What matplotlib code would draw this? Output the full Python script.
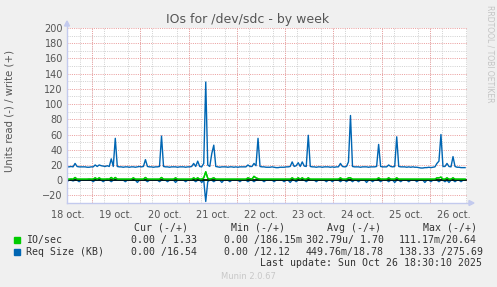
import numpy as np
import matplotlib
matplotlib.use("Agg")
import matplotlib.pyplot as plt
from matplotlib.lines import Line2D
from matplotlib.patches import Polygon, Rectangle

# ---------------- data (hourly samples, starting Oct 18 ~11:30) ----------------
day_labels = ["18 oct.", "19 oct.", "20 oct.", "21 oct.", "22 oct.",
              "23 oct.", "24 oct.", "25 oct.", "26 oct."]

req_write = [
    17.5, 17.5, 18, 17.5, 22, 18, 17.5, 17.5, 17.5, 17.5, 17, 17, 17.5, 17.5, 20, 18, 20, 19, 18.5, 18, 19, 18, 28, 18,
    55, 18, 17.5, 17.5, 17, 17.5, 17.5, 17, 17.5, 17.5, 17, 17.5, 18, 17.5, 18, 27, 18, 17.5, 17.5, 17, 17.5, 17.5, 18, 58,
    18, 17.5, 17.5, 17, 17.5, 17.5, 17.5, 17, 17.5, 17.5, 17.5, 17, 17.5, 17.5, 18, 22, 18, 25, 18, 17.5, 22, 129, 20, 18,
    35, 46, 18, 17.5, 17, 17.5, 17.5, 17.5, 17, 17.5, 17.5, 17, 17.5, 17, 17.5, 17.5, 17.5, 17.5, 20, 18, 18, 22, 19, 55,
    18, 17.5, 17.5, 17, 17, 17, 17.5, 17, 16.5, 16.5, 17, 17, 17, 17.5, 17.5, 18, 24, 18, 19, 23, 18, 24, 18.5, 18,
    59, 18, 17.5, 17.5, 17, 17.5, 17.5, 17, 17.5, 17.5, 17.5, 17, 17.5, 17, 17.5, 17.5, 22, 18, 17.5, 18, 24, 85, 18, 17.5,
    17.5, 17.5, 17, 17.5, 17.5, 17.5, 17, 17.5, 17.5, 17.5, 18, 47, 18, 17.5, 17.5, 17.5, 20, 18, 17.5, 18, 57, 18, 17.5, 17.5,
    17.5, 17, 17.5, 17, 17.5, 17, 17, 16.5, 16, 16, 16.5, 16.5, 17, 16.5, 17, 17.5, 22, 25, 60, 18, 18, 22, 18, 17.5,
    31, 18, 17, 17, 16.5, 16.5, 16.5,
]

req_read = [
    2, 0, 0, 1, 0, 0, 2, 0, 0, 0, 0, 0, 0, 2, 0, 0, 0, 0, 2, 0, 0, 0, 2, 0,
    0, 0, 0, 0, 0, 2, 0, 0, 0, 0, 0, 3, 0, 0, 0, 0, 2, 0, 0, 0, 0, 0, 2, 0,
    0, 0, 2, 0, 0, 0, 3, 0, 0, 0, 0, 2, 0, 0, 0, 0, 2, 0, 0, 3, 0, 28, 2, 0,
    0, 2, 0, 0, 0, 3, 0, 0, 0, 2, 0, 0, 0, 0, 2, 0, 0, 0, 2, 0, 0, 2, 0, 0,
    0, 0, 2, 0, 0, 0, 0, 2, 0, 0, 0, 0, 2, 0, 0, 3, 0, 0, 2, 0, 0, 0, 0, 2,
    0, 0, 0, 0, 2, 0, 0, 0, 0, 2, 0, 0, 2, 0, 0, 0, 2, 0, 0, 2, 0, 0, 2, 0,
    0, 2, 0, 0, 0, 3, 0, 0, 2, 0, 0, 0, 2, 0, 0, 0, 2, 0, 0, 3, 0, 0, 2, 0,
    0, 0, 2, 0, 0, 0, 2, 0, 0, 0, 3, 0, 0, 2, 0, 0, 0, 2, 0, 0, 2, 0, 3, 0,
    0, 2, 0, 0, 2, 0, 0,
]

io_write = [
    1.3, 1.3, 1.5, 1.3, 3.5, 1.3, 1.3, 1.3, 1.3, 1.3, 1.3, 1.5, 1.3, 1.3, 3, 1.3, 3, 1.3, 1.3, 1.3, 1.5, 1.3, 3.5, 1.3,
    3.5, 1.3, 1.3, 1.3, 1.3, 1.3, 1.3, 1.3, 1.3, 3, 1.3, 1.3, 1.3, 1.3, 1.3, 3.5, 1.3, 1.3, 1.3, 1.3, 1.3, 1.3, 1.3, 3.5,
    1.3, 1.3, 1.3, 1.3, 1.3, 1.3, 3, 1.3, 1.3, 1.3, 1.3, 1.3, 1.3, 1.3, 1.3, 3, 1.3, 3, 1.3, 1.3, 3, 11, 2.5, 1.3,
    2, 3, 1.3, 1.3, 1.3, 1.3, 1.3, 1.3, 1.3, 1.3, 1.3, 1.3, 1.3, 1.3, 1.3, 1.3, 1.3, 1.3, 3, 2, 1.3, 5, 3, 2,
    1.3, 1.3, 1.3, 1.3, 1.3, 1.3, 1.3, 1.3, 1.3, 1.3, 1.3, 1.3, 1.3, 1.3, 1.3, 1.3, 3, 1.3, 1.3, 3, 1.3, 3, 1.3, 1.3,
    3, 1.3, 1.3, 1.3, 1.3, 1.3, 1.3, 1.3, 1.3, 1.3, 1.3, 1.3, 1.3, 1.3, 1.3, 1.3, 3, 1.3, 1.3, 1.3, 3, 3, 1.3, 1.3,
    1.3, 1.3, 1.3, 1.3, 1.3, 1.3, 1.3, 1.3, 1.3, 1.3, 1.3, 3, 1.3, 1.3, 1.3, 1.3, 3, 1.3, 1.3, 1.3, 3, 1.3, 1.3, 1.3,
    1.3, 1.3, 1.3, 1.3, 1.3, 1.3, 1.3, 1.3, 1.3, 1.3, 1.3, 1.3, 1.3, 1.3, 1.3, 1.3, 3, 3, 4, 1.3, 1.3, 3, 1.3, 1.3,
    3, 1.3, 1.3, 1.3, 1.3, 1.3, 1.3,
]

io_read = [
    0.0, 0.0, 0.0, 0.0, 0.0, 0.0, 0.0, 0.0, 0.0, 0.0, 0.0, 0.0, 0.0, 0.0, 0.0, 0.0, 0.0, 0.0, 0.0, 0.0, 0.0, 0.0, 0.0, 0.0,
    0.0, 0.0, 0.0, 0.0, 0.0, 0.0, 0.0, 0.0, 0.0, 0.0, 0.0, 0.0, 0.0, 0.0, 0.0, 0.0, 0.0, 0.0, 0.0, 0.0, 0.0, 0.0, 0.0, 0.0,
    0.0, 0.0, 0.0, 0.0, 0.0, 0.0, 0.0, 0.0, 0.0, 0.0, 0.0, 0.0, 0.0, 0.0, 0.0, 0.0, 0.0, 0.0, 0.0, 0.0, 0.0, 0.1, 0.0, 0.0,
    0.0, 0.0, 0.0, 0.0, 0.0, 0.0, 0.0, 0.0, 0.0, 0.0, 0.0, 0.0, 0.0, 0.0, 0.0, 0.0, 0.0, 0.0, 0.0, 0.0, 0.0, 0.0, 0.0, 0.0,
    0.0, 0.0, 0.0, 0.0, 0.0, 0.0, 0.0, 0.0, 0.0, 0.0, 0.0, 0.0, 0.0, 0.0, 0.0, 0.0, 0.0, 0.0, 0.0, 0.0, 0.0, 0.0, 0.0, 0.0,
    0.0, 0.0, 0.0, 0.0, 0.0, 0.0, 0.0, 0.0, 0.0, 0.0, 0.0, 0.0, 0.0, 0.0, 0.0, 0.0, 0.0, 0.0, 0.0, 0.0, 0.0, 0.0, 0.0, 0.0,
    0.0, 0.0, 0.0, 0.0, 0.0, 0.0, 0.0, 0.0, 0.0, 0.0, 0.0, 0.0, 0.0, 0.0, 0.0, 0.0, 0.0, 0.0, 0.0, 0.0, 0.0, 0.0, 0.0, 0.0,
    0.0, 0.0, 0.0, 0.0, 0.0, 0.0, 0.0, 0.0, 0.0, 0.0, 0.0, 0.0, 0.0, 0.0, 0.0, 0.0, 0.0, 0.0, 0.0, 0.0, 0.0, 0.0, 0.0, 0.0,
    0.0, 0.0, 0.0, 0.0, 0.0, 0.0, 0.0,
]

legend_names = ["IO/sec", "Req Size (KB)"]
legend_colors = ["#00CC00", "#0066B3"]
col_headers = ["Cur (-/+)", "Min (-/+)", "Avg (-/+)", "Max (-/+)"]
row_values = [
    ["0.00 / 1.33", "0.00 /186.15m", "302.79u/ 1.70", "111.17m/20.64"],
    ["0.00 /16.54", "0.00 /12.12", "449.76m/18.78", "138.33 /275.69"],
]
last_update = "Last update: Sun Oct 26 18:30:10 2025"
title = "IOs for /dev/sdc - by week"

# ---------------- figure ----------------
W, H = 497, 287
fig = plt.figure(figsize=(W / 100, H / 100), dpi=100, facecolor="#F0F0F0")

def fx(x):
    return x / W

def fy(y):
    return 1 - y / H

L, R, T, B = 67, 467, 28, 203
ax = fig.add_axes([fx(L), fy(B), (R - L) / W, (B - T) / H])
ax.set_facecolor("white")

t = np.arange(len(req_write)) / 24.0 - 0.02
ax.set_xlim(-0.0207, 8.27)
ax.set_ylim(-30, 200)

GRID_RED = "#EBA0A0"
GRID_GRAY = "#D2D2D2"
dot = (0, (1, 1.2))

# grids
ax.set_yticks(np.arange(-20, 201, 20))
ax.set_yticks(np.arange(-30, 201, 10), minor=True)
ax.set_xticks(np.arange(0, 9), labels=day_labels)
ax.set_xticks(np.arange(0, 8.3, 0.25), minor=True)
ax.grid(which="minor", color=GRID_GRAY, linestyle=dot, linewidth=0.72)
ax.grid(which="major", axis="y", color=GRID_RED, linestyle=dot, linewidth=0.72)
for m in np.arange(0.5, 8.3, 1.0):
    ax.axvline(m, color=GRID_RED, linestyle=dot, linewidth=0.72, zorder=0.6)
ax.set_axisbelow(True)

ax.tick_params(which="both", length=0, labelsize=7, labelcolor="#555555", pad=3)
ax.tick_params(axis="x", pad=5)
for s in ax.spines.values():
    s.set_visible(False)

# series
ax.plot(t, -np.array(io_read), color="#00CC00", lw=1.0, zorder=3)
ax.plot(t, io_write, color="#00CC00", lw=1.0, zorder=3)
ax.plot(t, -np.array(req_read), color="#0066B3", lw=1.0, zorder=3)
ax.plot(t, req_write, color="#0066B3", lw=1.0, zorder=3)
ax.axhline(0, color="black", lw=1.1, zorder=3.5)
ax.plot(t, io_write, color="#00CC00", lw=1.0, zorder=4)

# axis lines with arrows
AXC = "#C3CAEE"
fig.add_artist(Line2D([fx(L), fx(L)], [fy(B), fy(25)], color=AXC, lw=1, transform=fig.transFigure))
fig.add_artist(Polygon([[fx(L - 2.5), fy(26)], [fx(L + 2.5), fy(26)], [fx(L), fy(21)]],
                       closed=True, color=AXC, transform=fig.transFigure))
fig.add_artist(Line2D([fx(L), fx(470)], [fy(B), fy(B)], color=AXC, lw=1, transform=fig.transFigure))
fig.add_artist(Polygon([[fx(469), fy(B - 2.5)], [fx(469), fy(B + 2.5)], [fx(474), fy(B)]],
                       closed=True, color=AXC, transform=fig.transFigure))

# texts
fig.text(fx(248), fy(19.5), title, ha="center", va="center", fontsize=9, color="#555555")
fig.text(fx(10), fy(111), "Units read (-) / write (+)", rotation=90, ha="center", va="center",
         fontsize=7.3, color="#555555")
fig.text(fx(490), fy(5), "RRDTOOL / TOBI OETIKER", rotation=270, ha="center", va="top",
         fontsize=5.5, color="#C4C4C4")

mono = "DejaVu Sans Mono"
LC = "#333333"
fs = 7.1
for xh, hdr in zip([134, 231, 327, 423], col_headers):
    fig.text(fx(xh), fy(227.7), hdr, family=mono, fontsize=fs, color=LC, ha="left", va="center")

row_y = [240, 251.7]
col_x = [131, 224, 306, 399]
for name, colr, yy, vals in zip(legend_names, legend_colors, row_y, row_values):
    fig.add_artist(Rectangle((fx(14), fy(yy + 3)), 6 / W, 6 / H, color=colr, transform=fig.transFigure))
    fig.text(fx(26), fy(yy), name, family=mono, fontsize=fs, color=LC, ha="left", va="center")
    for xc, v in zip(col_x, vals):
        fig.text(fx(xc), fy(yy), v, family=mono, fontsize=fs, color=LC, ha="left", va="center")

fig.text(fx(482), fy(263.3), last_update, family=mono, fontsize=fs, color=LC, ha="right", va="center")
fig.text(fx(248), fy(276.5), "Munin 2.0.67", fontsize=6, color="#C8C8C8", ha="center", va="center")

fig.savefig("out.png", dpi=100, facecolor=fig.get_facecolor())
